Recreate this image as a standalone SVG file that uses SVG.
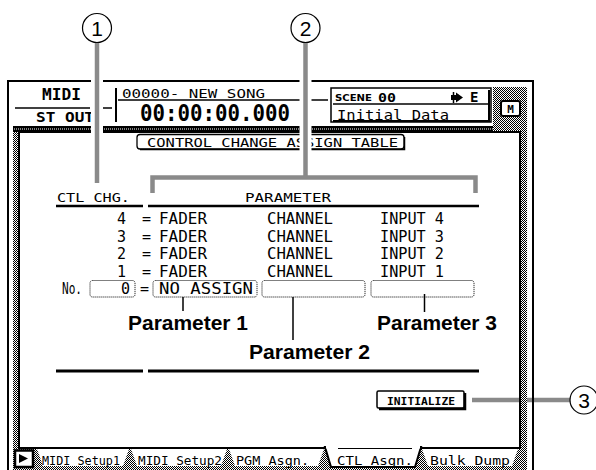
<svg xmlns="http://www.w3.org/2000/svg" width="596" height="470" viewBox="0 0 596 470">
<defs>
<pattern id="dither" width="2" height="2" patternUnits="userSpaceOnUse">
<rect width="2" height="2" fill="#fff"/>
<rect width="1" height="1" fill="#000"/>
<rect x="1" y="1" width="1" height="1" fill="#000"/>
</pattern>
<style>
.lcd{font-family:"DejaVu Sans Mono","Liberation Mono",monospace;fill:#000}
.lbl{font-family:"Liberation Sans",Arial,sans-serif;font-weight:bold;font-size:20px;fill:#000}
.num{font-family:"Liberation Sans",Arial,sans-serif;font-size:21px;fill:#000;text-anchor:middle}
.ln{stroke:#000;fill:none}
.dotbox{fill:none;stroke:#000;stroke-width:1;stroke-dasharray:1 1}
.call{stroke:#8a8a8a;stroke-width:4.5;fill:none}
.halo{stroke:#fff;stroke-width:12;fill:none}
.circ{fill:#fff;stroke:#000;stroke-width:1.2}
</style>
</defs>
<rect width="596" height="470" fill="#fff"/>

<g id="screen">
<!-- outer frame -->
<path class="ln" stroke-width="2" d="M8,470 V81 H533 V470"/>
<!-- dithered borders -->
<rect x="13" y="126" width="514" height="344" fill="url(#dither)"/>
<rect x="493" y="87" width="34" height="40" fill="url(#dither)"/>
<rect x="13" y="126" width="480" height="6" fill="#000"/>
<line x1="14" y1="129" x2="493" y2="129" stroke="#fff" stroke-width="1" stroke-dasharray="1 1"/>
<!-- main panel -->
<rect x="19" y="132" width="501" height="316" fill="#fff" stroke="#000" stroke-width="2"/>
</g>

<g id="header">
<text class="lcd" x="42" y="100" font-size="16.5" font-weight="bold" textLength="39" lengthAdjust="spacingAndGlyphs">MIDI</text>
<line class="ln" x1="15" y1="108" x2="90" y2="108" stroke-width="1.5"/>
<text class="lcd" x="36" y="122" font-size="14" font-weight="bold" textLength="58" lengthAdjust="spacingAndGlyphs">ST OUT</text>
<line class="ln" x1="102" y1="108" x2="112" y2="108" stroke-width="1.5"/>
<line class="ln" x1="116" y1="88" x2="116" y2="122" stroke-width="2"/>
<text class="lcd" x="122" y="97.5" font-size="12" textLength="143" lengthAdjust="spacingAndGlyphs">00000- NEW SONG</text>
<line class="ln" x1="118" y1="100" x2="300" y2="100" stroke-width="1.5"/>
<text class="lcd" font-size="19.5" font-weight="bold" transform="translate(140,121) scale(1,1.2)" x="0" y="0" textLength="150" lengthAdjust="spacingAndGlyphs">00:00:00.000</text>
<line class="ln" x1="311" y1="100" x2="328" y2="100" stroke-width="1.5"/>
</g>

<g id="scene-box">
<rect x="331" y="88" width="160" height="34" fill="#fff" stroke="#000" stroke-width="1.5"/>
<path class="ln" stroke-width="2" d="M333,121 H489 V90"/>
<text x="335" y="101" font-family="DejaVu Sans,sans-serif" font-weight="bold" font-size="9" textLength="37" lengthAdjust="spacingAndGlyphs">SCENE</text>
<text class="lcd" x="378" y="102" font-size="13" font-weight="bold" textLength="18" lengthAdjust="spacingAndGlyphs">00</text>
<polygon points="451,95 456,95 456,92.5 463,97.5 456,102.5 456,100 451,100" fill="#000"/>
<line x1="453.5" y1="92" x2="453.5" y2="103" stroke="#000" stroke-width="1.5"/>
<text class="lcd" x="470" y="102" font-size="14" font-weight="bold">E</text>
<line class="ln" x1="333" y1="104" x2="488" y2="104" stroke-width="1.5"/>
<text class="lcd" x="337" y="120" font-size="14.5" textLength="112" lengthAdjust="spacingAndGlyphs">Initial Data</text>
</g>

<g id="m-icon">
<rect x="501" y="101" width="19" height="15" rx="2" fill="#fff" stroke="#000" stroke-width="2"/>
<text class="lcd" x="510.5" y="112.5" font-size="11" font-weight="bold" text-anchor="middle">M</text>
</g>

<g id="title-box">
<rect x="137" y="134.5" width="267" height="14.5" rx="3" fill="#fff" stroke="#000" stroke-width="1.3"/>
<path class="ln" stroke-width="1.5" d="M140,149.5 H404.5 V137"/>
<text class="lcd" x="147" y="147" font-size="13" textLength="251" lengthAdjust="spacingAndGlyphs">CONTROL CHANGE ASSIGN TABLE</text>
</g>

<g id="table">
<text class="lcd" x="57" y="202" font-size="13" textLength="73" lengthAdjust="spacingAndGlyphs">CTL CHG.</text>
<text class="lcd" x="245" y="202" font-size="13" textLength="86" lengthAdjust="spacingAndGlyphs">PARAMETER</text>
<line class="ln" x1="56" y1="206" x2="143" y2="206" stroke-width="2.6"/>
<line class="ln" x1="148" y1="206" x2="479" y2="206" stroke-width="2.6"/>

<g font-size="15">
<text class="lcd" x="117" y="224">4</text>
<text class="lcd" x="142" y="224">=</text>
<text class="lcd" x="159" y="224" textLength="48" lengthAdjust="spacingAndGlyphs">FADER</text>
<text class="lcd" x="267" y="224" textLength="66" lengthAdjust="spacingAndGlyphs">CHANNEL</text>
<text class="lcd" x="380" y="224" textLength="64" lengthAdjust="spacingAndGlyphs">INPUT 4</text>

<text class="lcd" x="117" y="241.5">3</text>
<text class="lcd" x="142" y="241.5">=</text>
<text class="lcd" x="159" y="241.5" textLength="48" lengthAdjust="spacingAndGlyphs">FADER</text>
<text class="lcd" x="267" y="241.5" textLength="66" lengthAdjust="spacingAndGlyphs">CHANNEL</text>
<text class="lcd" x="380" y="241.5" textLength="64" lengthAdjust="spacingAndGlyphs">INPUT 3</text>

<text class="lcd" x="117" y="259">2</text>
<text class="lcd" x="142" y="259">=</text>
<text class="lcd" x="159" y="259" textLength="48" lengthAdjust="spacingAndGlyphs">FADER</text>
<text class="lcd" x="267" y="259" textLength="66" lengthAdjust="spacingAndGlyphs">CHANNEL</text>
<text class="lcd" x="380" y="259" textLength="64" lengthAdjust="spacingAndGlyphs">INPUT 2</text>

<text class="lcd" x="117" y="276.5">1</text>
<text class="lcd" x="142" y="276.5">=</text>
<text class="lcd" x="159" y="276.5" textLength="48" lengthAdjust="spacingAndGlyphs">FADER</text>
<text class="lcd" x="267" y="276.5" textLength="66" lengthAdjust="spacingAndGlyphs">CHANNEL</text>
<text class="lcd" x="380" y="276.5" textLength="64" lengthAdjust="spacingAndGlyphs">INPUT 1</text>

<text class="lcd" x="62" y="294" textLength="20" lengthAdjust="spacingAndGlyphs">No.</text>
<text class="lcd" x="121" y="294">0</text>
<text class="lcd" x="140" y="294">=</text>
<text class="lcd" x="159" y="294" textLength="94" lengthAdjust="spacingAndGlyphs">NO ASSIGN</text>
</g>
<rect class="dotbox" x="90" y="280.5" width="45" height="16.5" rx="2.5"/>
<rect class="dotbox" x="153" y="280.5" width="104" height="16.5" rx="2.5"/>
<rect class="dotbox" x="262" y="280.5" width="103" height="16.5" rx="2.5"/>
<rect class="dotbox" x="371" y="280.5" width="103" height="16.5" rx="2.5"/>

<line class="ln" x1="56" y1="371" x2="143" y2="371" stroke-width="3"/>
<line class="ln" x1="148" y1="371" x2="479" y2="371" stroke-width="3"/>
</g>

<g id="initialize">
<rect x="377" y="391" width="87" height="17" rx="1.5" fill="#fff" stroke="#000" stroke-width="1.5"/>
<path class="ln" stroke-width="2.5" d="M379,409 H465 V393"/>
<text class="lcd" x="387" y="405" font-size="11" font-weight="bold" textLength="68" lengthAdjust="spacingAndGlyphs">INITIALIZE</text>
</g>

<g id="tabs">
<rect x="15" y="450.5" width="18" height="16.5" fill="#fff" stroke="#000" stroke-width="2.5"/>
<polygon points="19,454 28,458.5 19,463" fill="#000"/>
<polygon points="37,449 129,449 123,466 43,466" fill="#fff"/>
<polygon points="131,449 227,449 221,466 137,466" fill="#fff"/>
<polygon points="229,449 324,449 318,466 235,466" fill="#fff"/>
<polygon points="422,449 518,449 512,466 428,466" fill="#fff"/>
<polygon points="325,447 421,447 415,467 331,467" fill="#fff" stroke="#000" stroke-width="2"/>
<rect x="326" y="446" width="94" height="2.5" fill="#fff"/>
<line x1="338" y1="448.5" x2="412" y2="448.5" stroke="#000" stroke-width="1"/>
<g font-size="12.5">
<text class="lcd" x="42" y="465" textLength="78" lengthAdjust="spacingAndGlyphs">MIDI Setup1</text>
<text class="lcd" x="138" y="465" textLength="84" lengthAdjust="spacingAndGlyphs">MIDI Setup2</text>
<text class="lcd" x="236" y="465" textLength="73" lengthAdjust="spacingAndGlyphs">PGM Asgn.</text>
<text class="lcd" x="337" y="465" textLength="76" lengthAdjust="spacingAndGlyphs">CTL Asgn.</text>
<text class="lcd" x="430" y="465" textLength="80" lengthAdjust="spacingAndGlyphs">Bulk Dump</text>
</g>
</g>

<g id="labels">
<text class="lbl" x="128" y="330" textLength="120" lengthAdjust="spacingAndGlyphs">Parameter 1</text>
<text class="lbl" x="249" y="359" textLength="121" lengthAdjust="spacingAndGlyphs">Parameter 2</text>
<text class="lbl" x="377" y="330" textLength="120" lengthAdjust="spacingAndGlyphs">Parameter 3</text>
</g>

<g id="connectors">
<line class="ln" x1="183" y1="297" x2="183" y2="311" stroke-width="1.5"/>
<line class="ln" x1="293" y1="297" x2="293" y2="340" stroke-width="1.5"/>
<line class="ln" x1="424.5" y1="294" x2="424.5" y2="312" stroke-width="1.5"/>

<line class="halo" x1="97" y1="43" x2="97" y2="183"/>
<line class="call" x1="97" y1="43" x2="97" y2="183"/>
<line class="halo" x1="305.5" y1="43" x2="305.5" y2="172"/>
<line class="call" x1="305.5" y1="43" x2="305.5" y2="177"/>
<path class="call" d="M152.5,193 V177.5 H475.5 V193"/>

<line class="call" x1="472" y1="400" x2="571" y2="400"/>
<rect x="521" y="396" width="6" height="8" fill="url(#dither)"/>
<line x1="520" y1="396" x2="520" y2="404" stroke="#000" stroke-width="2"/>
<line x1="533" y1="396" x2="533" y2="404" stroke="#000" stroke-width="2"/>
</g>

<g id="callout-1">
<circle class="circ" cx="97" cy="28" r="14.5"/>
<text class="num" x="97" y="35.5">1</text>
</g>
<g id="callout-2">
<circle class="circ" cx="305.5" cy="28" r="14.5"/>
<text class="num" x="305.5" y="35.5">2</text>
</g>
<g id="callout-3">
<circle class="circ" cx="584" cy="400" r="14"/>
<text class="num" x="584" y="407.5">3</text>
</g>
</svg>
